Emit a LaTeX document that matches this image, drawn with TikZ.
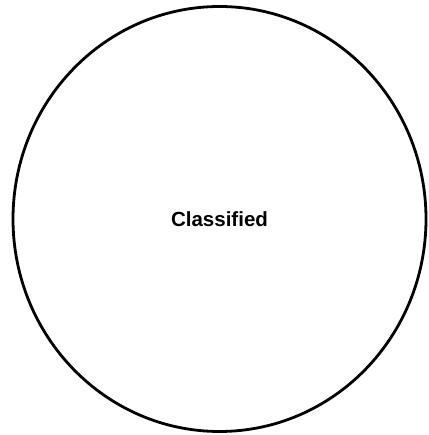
\documentclass[tikz,border=0pt]{standalone}
\usepackage{fontspec}
\setmainfont{Liberation Sans}
\usepackage{tikz}
\usetikzlibrary{positioning,shapes.geometric}

\begin{document}
\begin{tikzpicture}[
  x=1pt,y=1pt,
  font=\bfseries\fontsize{20.5}{24}\selectfont,
  setnode/.style={ellipse,draw,line width=2.8pt,inner sep=0pt,minimum width=413pt,minimum height=425pt},
]
\useasboundingbox (0,0) rectangle (428,435);
% the one set
\node[setnode] (classified) at (219.5,216) {Classified};
\end{tikzpicture}
\end{document}
